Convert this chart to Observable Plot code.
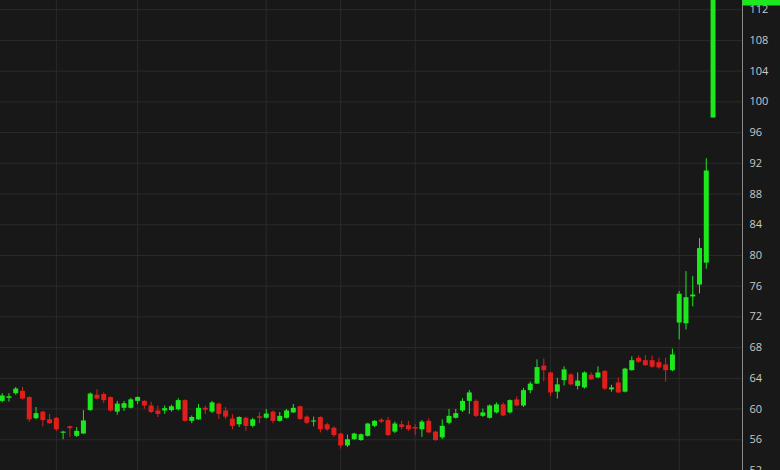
<!DOCTYPE html>
<html><head><meta charset="utf-8">
<script src="https://cdn.jsdelivr.net/npm/d3@7"></script>
<script src="https://cdn.jsdelivr.net/npm/@observablehq/plot@0.6"></script>
<style>html,body{margin:0;padding:0;background:#181818;overflow:hidden}</style>
</head><body><div id="chart"></div>
<script>
const opens = [61.0,61.4,62.0,62.3,61.5,58.75,59.6,58.6,58.8,56.85,57.7,56.45,56.75,59.8,61.8,61.9,61.5,59.6,60.1,60.1,
61.0,61.0,60.4,59.75,59.75,59.8,59.9,61.1,58.4,58.6,60.1,59.6,60.65,59.75,58.7,57.95,58.8,57.75,59.0,58.8,
59.6,58.4,58.8,59.5,60.3,58.95,58.3,58.9,57.95,57.5,56.75,55.2,56.0,55.9,56.45,57.75,58.55,58.5,57.0,57.95,
57.85,57.6,57.3,58.4,57.0,56.25,58.15,58.8,59.75,61.0,61.0,59.05,58.8,59.5,60.55,59.5,61.2,60.4,62.4,63.25,
65.6,64.7,62.2,63.7,64.45,62.95,62.75,64.4,64.05,64.9,62.5,63.4,62.2,65.0,66.6,66.3,66.3,66.05,65.75,65.0,
71.2,71.1,74.6,76.15,79.0,97.9];
const highs = [62.0,62.0,62.8,62.8,61.6,60.2,59.7,59.3,58.9,57.1,57.8,57.6,59.8,62.1,62.5,62.1,61.6,61.0,61.0,61.4,
61.6,61.1,60.9,60.4,60.4,60.5,61.35,61.2,59.1,60.6,60.4,61.0,60.8,60.2,59.3,59.0,58.95,58.8,59.55,59.95,
59.75,59.55,59.95,60.6,60.4,59.1,58.95,59.0,58.15,57.7,56.85,56.6,56.85,56.75,58.15,58.5,58.75,58.9,58.3,58.4,
58.4,57.95,58.5,58.75,57.1,58.6,59.95,59.95,61.35,62.4,61.2,60.0,60.55,60.8,60.8,61.2,61.6,62.7,63.5,66.4,
66.5,64.8,64.0,65.5,64.6,64.7,64.85,64.7,65.5,65.0,63.1,64.05,65.3,66.8,66.9,66.95,66.9,66.6,66.6,67.8,
75.3,77.9,77.25,82.2,92.6,114.0];
const lows = [60.8,60.9,61.8,61.2,58.3,58.6,57.7,58.0,57.1,56.0,56.3,56.3,56.7,59.7,61.2,60.7,59.6,59.2,59.7,60.0,
60.6,60.0,59.4,58.9,59.3,59.6,59.75,58.3,58.1,58.5,59.3,59.4,58.65,58.65,57.3,57.6,57.1,57.55,58.1,58.7,
58.1,58.3,58.7,59.4,58.5,57.95,57.7,56.9,57.1,56.3,54.8,55.0,55.95,55.8,56.35,57.6,58.1,56.4,56.8,57.3,
57.1,56.55,56.3,56.8,55.8,56.0,57.95,58.7,59.55,59.3,58.9,58.9,58.7,59.35,59.0,59.35,60.3,60.2,62.0,63.2,
63.55,61.6,61.3,63.0,63.0,62.5,62.6,63.75,63.95,62.4,62.2,62.0,62.1,64.95,65.95,65.55,65.3,65.2,63.5,64.85,
69.0,70.3,73.3,75.0,78.2,97.9];
const closes = [61.7,61.6,62.6,61.3,58.6,59.4,58.5,58.1,57.3,57.0,57.45,57.1,58.45,61.95,61.3,61.1,59.75,60.65,60.7,61.2,
61.5,60.4,59.55,59.3,60.05,60.3,61.1,58.4,58.9,60.1,59.85,60.8,59.3,58.95,57.75,58.9,57.75,58.6,58.8,59.35,
58.4,59.05,59.75,60.1,58.65,58.15,58.45,57.3,57.3,56.55,55.2,56.0,56.75,56.65,58.05,58.4,58.3,56.55,58.05,57.6,
57.3,57.4,58.3,56.9,55.9,57.75,59.05,59.4,61.0,62.1,59.05,59.5,60.4,60.55,59.1,61.1,60.4,62.4,63.25,65.4,
65.0,62.1,63.15,65.1,63.15,63.65,64.7,63.8,64.7,62.6,62.75,62.1,65.2,66.3,66.1,65.65,65.45,65.35,65.0,67.05,
74.95,74.5,74.85,80.9,91.0,113.6];
const yTicks = [52,56,60,64,68,72,76,80,84,88,92,96,100,104,108,112];
const gridIdx = [8,20,39,50,61,81,100];
const lastLabel = ["113.60"];

const data = opens.map((o,i)=>({i, open:o, high:highs[i], low:lows[i], close:closes[i],
  dir: closes[i] >= o ? "up" : "down"}));
const last = data[data.length-1];
const up = "#1de81d", down = "#df1f1b";
const xMax = 109.35;

const chart = Plot.plot({
  width:780, height:470, marginLeft:0, marginRight:38, marginTop:0, marginBottom:0,
  style:{background:"#181818", color:"#c8c8c8", fontFamily:"'Open Sans', sans-serif", fontSize:"11px"},
  x:{type:"linear", domain:[-0.25, xMax], axis:null},
  y:{domain:[52, 113.2], axis:null},
  color:{domain:["up","down"], range:[up, down]},
  marks:[
    Plot.ruleY(yTicks, {stroke:"#2b2b2b", strokeWidth:1}),
    Plot.ruleX(gridIdx, {stroke:"#2b2b2b", strokeWidth:1}),
    Plot.ruleX(data, {x:"i", y1:"low", y2:"high", stroke:"dir", strokeWidth:1, clip:true}),
    Plot.ruleX(data, {x:"i", y1:"open", y2:"close", stroke:"dir", strokeWidth:5, clip:true}),
    Plot.axisY(yTicks, {anchor:"right", tickSize:0, tickPadding:7, label:null, textAnchor:"start", fill:"#c8c8c8"}),
    Plot.ruleX([xMax], {stroke:"#8a8a8a", strokeWidth:1}),
    Plot.ruleY([last.close], {x1:xMax+0.05, x2:116, stroke:up, strokeWidth:16}),
    Plot.text(lastLabel, {x:xMax+0.5, y:[last.close], dy:-2, text:d=>d, textAnchor:"start", fill:"#000", fontWeight:"bold", fontSize:10})
  ]
});
document.getElementById("chart").appendChild(chart);
</script>
</body></html>
